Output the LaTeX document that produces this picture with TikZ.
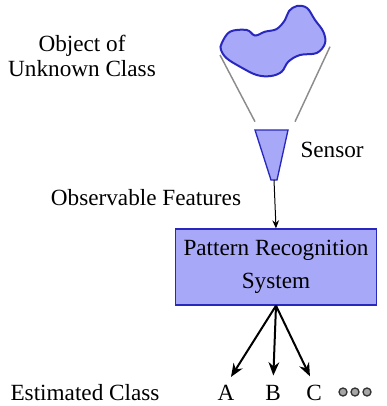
\documentclass[tikz,border=0pt]{standalone}
\usepackage{fontspec}
\setmainfont{Liberation Serif}
\usetikzlibrary{arrows.meta}

\definecolor{lavender}{RGB}{168,168,248}
\definecolor{edgeblue}{RGB}{40,40,190}
\tikzset{every picture/.style={line width=0.75pt}}
\tikzset{
	label text/.style={font=\fontsize{17.4}{18.75}\selectfont, inner sep=0pt},
	out arrow/.style={line width=1.5pt, -{Stealth[length=10pt,width=8pt]}, shorten >=7pt},
	dot/.style={circle, draw=black!80, fill=black!35, line width=1pt, minimum size=6pt, inner sep=0pt}}

\begin{document}
\begin{tikzpicture}[x=0.75pt,y=0.75pt,yscale=-1,xscale=1]
	\useasboundingbox (0,0) rectangle (386,406);

	%Shape: Object [id:blob]
	\draw [fill=lavender, draw=edgeblue, line width=1.5pt] plot [smooth cycle, tension=0.6] coordinates {
		(221.7,43.3) (230,31.7) (246.7,30) (255,35.5) (265,31.7) (276.7,29) (285,20)
		(289,11) (297,6) (307,8) (315,20) (323.3,31.7) (325,43.3) (316.7,53) (300,55)
		(288.3,61.7) (281.7,71.7) (271,76) (256.7,75) (240,66.7) (226.7,58.3) (221,50)};

	%Straight Lines [id:cone]
	\draw [black!45, line width=1.1pt] (220,55) -- (255,121.7) ;
	\draw [black!45, line width=1.1pt] (330,46.7) -- (295,121.7) ;

	%Shape: Sensor [id:sensor]
	\draw [fill=lavender, draw=edgeblue, line width=1pt] (255,130) -- (288,130) -- (277,180) -- (271,180) -- cycle ;
	\coordinate (sensor) at (274,180) ;

	%Shape: Rectangle [id:prs]
	\node (prs) [draw=edgeblue, fill=lavender, line width=1pt, minimum width=151pt, minimum height=57pt,
		align=center, font=\fontsize{17.4}{25}\selectfont] at (276,267) {Pattern Recognition\\System};

	%Straight Lines [id:feat]
	\draw [-{Stealth[length=6pt,width=5pt]}] (sensor) -- (prs.north) ;

	% Text Node
	\node (object) [label text, align=center] at (82,56) {Object of\\Unknown Class};
	% Text Node
	\node (sensorlbl) [label text, anchor=west] at (300,150) {Sensor};
	% Text Node
	\node (features) [label text] at (146,198) {Observable Features};
	% Text Node
	\node (estimated) [label text] at (85,393) {Estimated Class};
	% Text Node
	\node (classA) [label text] at (226,393) {A};
	% Text Node
	\node (classB) [label text] at (273,393) {B};
	% Text Node
	\node (classC) [label text] at (314,393) {C};

	%Circles [id:more]
	\foreach \i/\xx in {1/343,2/355,3/367}
		\node (dot\i) [dot] at (\xx,392) {};

	%Straight Lines [id:classes]
	\draw [out arrow] (prs.south) -- (classA.north) ;
	\draw [out arrow] (prs.south) -- (classB.north) ;
	\draw [out arrow] (prs.south) -- (classC.north) ;

\end{tikzpicture}
\end{document}
